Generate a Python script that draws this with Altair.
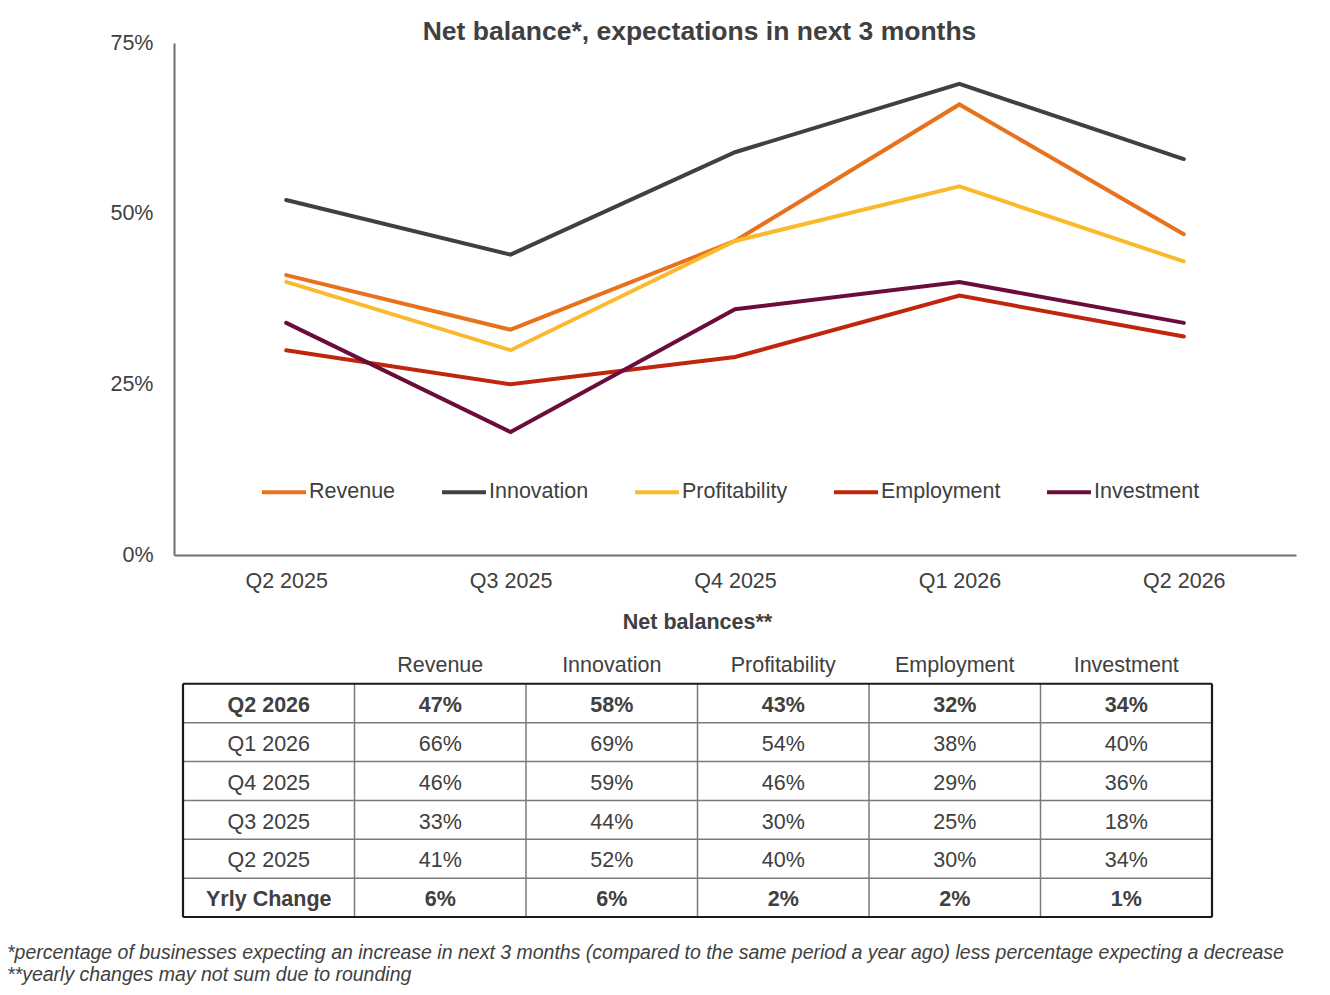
import altair as alt
import pandas as pd

# ---------------- data ----------------
quarters = ["Q2 2025", "Q3 2025", "Q4 2025", "Q1 2026", "Q2 2026"]
series_names = ["Revenue", "Innovation", "Profitability", "Employment", "Investment"]
revenue = [41, 33, 46, 66, 47]
innovation = [52, 44, 59, 69, 58]
profitability = [40, 30, 46, 54, 43]
employment = [30, 25, 29, 38, 32]
investment = [34, 18, 36, 40, 34]
yearly_change = ["6%", "6%", "2%", "2%", "1%"]
y_ticks = [0, 25, 50, 75]
series_colors = ["#E8711E", "#404040", "#FBB92D", "#C0250E", "#6B0D3B"]

title_text = "Net balance*, expectations in next 3 months"
table_title = "Net balances**"
change_label = "Yrly Change"
footnotes = [
    "*percentage of businesses expecting an increase in next 3 months (compared to the same period a year ago) less percentage expecting a decrease",
    "**yearly changes may not sum due to rounding",
]

FONT = "Liberation Sans, Arial, Helvetica, sans-serif"
TXT = "#404040"
FS = 21.5

# ---------------- line chart data ----------------
series_values = [revenue, innovation, profitability, employment, investment]
line_df = pd.DataFrame(
    [
        {"quarter": q, "series": s, "value": v}
        for s, vals in zip(series_names, series_values)
        for q, v in zip(quarters, vals)
    ]
)

# ---------------- table data ----------------
cells = []
cells.append({"label": table_title, "cx": 3.0, "cy": 0.45, "bold": True})
for j, s in enumerate(series_names):
    cells.append({"label": s, "cx": j + 1.5, "cy": 1.55, "bold": False})
row_quarters = list(reversed(quarters))
for i, q in enumerate(row_quarters):
    qi = quarters.index(q)
    bold = i == 0
    cells.append({"label": q, "cx": 0.5, "cy": i + 2.57, "bold": bold})
    for j, vals in enumerate(series_values):
        cells.append({"label": f"{vals[qi]}%", "cx": j + 1.5, "cy": i + 2.57, "bold": bold})
last = len(row_quarters) + 2.57
cells.append({"label": change_label, "cx": 0.5, "cy": last, "bold": True})
for j, c in enumerate(yearly_change):
    cells.append({"label": c, "cx": j + 1.5, "cy": last, "bold": True})
table_df = pd.DataFrame(cells)

ncols = len(series_names) + 1
top_row = 2
bottom_row = top_row + len(row_quarters) + 1
inner, outer = [], []
for r in range(top_row, bottom_row + 1):
    d = {"x": 0, "x2": ncols, "y": r, "y2": r}
    (outer if r in (top_row, bottom_row) else inner).append(d)
for c in range(0, ncols + 1):
    d = {"x": c, "x2": c, "y": top_row, "y2": bottom_row}
    (outer if c in (0, ncols) else inner).append(d)
inner_df = pd.DataFrame(inner)
outer_df = pd.DataFrame(outer)

# ---------------- scales ----------------
def tx():
    return alt.Scale(domain=[0, ncols], range=[175, 1204], nice=False, zero=False)

def ty():
    return alt.Scale(domain=[0, bottom_row], range=[598, 909], nice=False, zero=False)

# ---------------- layers ----------------
lines = (
    alt.Chart(line_df)
    .mark_line(strokeWidth=4, strokeCap="round")
    .encode(
        x=alt.X(
            "quarter:N",
            sort=quarters,
            scale=alt.Scale(type="point", domain=quarters, range=[166, 1288], padding=0.5),
            axis=alt.Axis(
                title=None, orient="bottom", offset=-432, labelAngle=0, ticks=False,
                labelFont=FONT, labelFontSize=FS, labelColor=TXT, labelPadding=15,
                domainColor="#6f6f6f", domainWidth=2, grid=False,
            ),
        ),
        y=alt.Y(
            "value:Q",
            scale=alt.Scale(domain=[0, 75], range=[547, 35], nice=False, zero=True),
            axis=alt.Axis(
                title=None, orient="left", offset=-166, values=y_ticks,
                labelExpr="datum.value + '%'", ticks=False,
                labelFont=FONT, labelFontSize=FS, labelColor=TXT, labelPadding=21,
                domainColor="#6f6f6f", domainWidth=2, grid=False,
            ),
        ),
        color=alt.Color(
            "series:N",
            scale=alt.Scale(domain=series_names, range=series_colors),
            legend=alt.Legend(
                title=None, orient="none", legendX=252, legendY=460,
                direction="horizontal", columns=5, symbolType="stroke",
                symbolSize=1936, symbolStrokeWidth=4, labelOffset=1,
                columnPadding=38, labelFont=FONT, labelFontSize=FS, labelColor=TXT,
                labelLimit=300,
            ),
        ),
        detail="series:N",
    )
)

rules_inner = (
    alt.Chart(inner_df)
    .mark_rule(color="#7a7a7a", strokeWidth=1.5)
    .encode(
        x=alt.X("x:Q", scale=tx(), axis=None), x2="x2:Q",
        y=alt.Y("y:Q", scale=ty(), axis=None), y2="y2:Q",
    )
)
rules_outer = (
    alt.Chart(outer_df)
    .mark_rule(color="#1a1a1a", strokeWidth=2.2)
    .encode(
        x=alt.X("x:Q", scale=tx(), axis=None), x2="x2:Q",
        y=alt.Y("y:Q", scale=ty(), axis=None), y2="y2:Q",
    )
)

text_normal = (
    alt.Chart(table_df)
    .transform_filter("!datum.bold")
    .mark_text(font=FONT, fontSize=FS, color=TXT)
    .encode(
        x=alt.X("cx:Q", scale=tx(), axis=None),
        y=alt.Y("cy:Q", scale=ty(), axis=None),
        text="label:N",
    )
)
text_bold = (
    alt.Chart(table_df)
    .transform_filter("datum.bold")
    .mark_text(font=FONT, fontSize=FS, fontWeight="bold", color=TXT)
    .encode(
        x=alt.X("cx:Q", scale=tx(), axis=None),
        y=alt.Y("cy:Q", scale=ty(), axis=None),
        text="label:N",
    )
)

title_layer = (
    alt.Chart(pd.DataFrame({"t": [title_text]}))
    .mark_text(font=FONT, fontSize=26.5, fontWeight="bold", color=TXT)
    .encode(x=alt.value(691.5), y=alt.value(23.5), text="t:N")
)

foot_df = pd.DataFrame({"t": footnotes, "i": list(range(len(footnotes)))})
foot_layer = (
    alt.Chart(foot_df)
    .mark_text(font=FONT, fontSize=19.5, fontStyle="italic", color=TXT, align="left")
    .encode(
        x=alt.value(-1),
        y=alt.Y("i:Q", scale=alt.Scale(domain=[0, 1], range=[945, 967], nice=False, zero=False), axis=None),
        text="t:N",
    )
)

chart = (
    alt.layer(rules_inner, rules_outer, text_normal, text_bold, lines, title_layer, foot_layer)
    .resolve_scale(x="independent", y="independent")
    .properties(width=1314, height=979, autosize=alt.AutoSizeParams(type="none"), padding=0)
    .configure_view(stroke=None)
)

chart.save("out.html", embed_options={"renderer": "svg", "actions": False})
